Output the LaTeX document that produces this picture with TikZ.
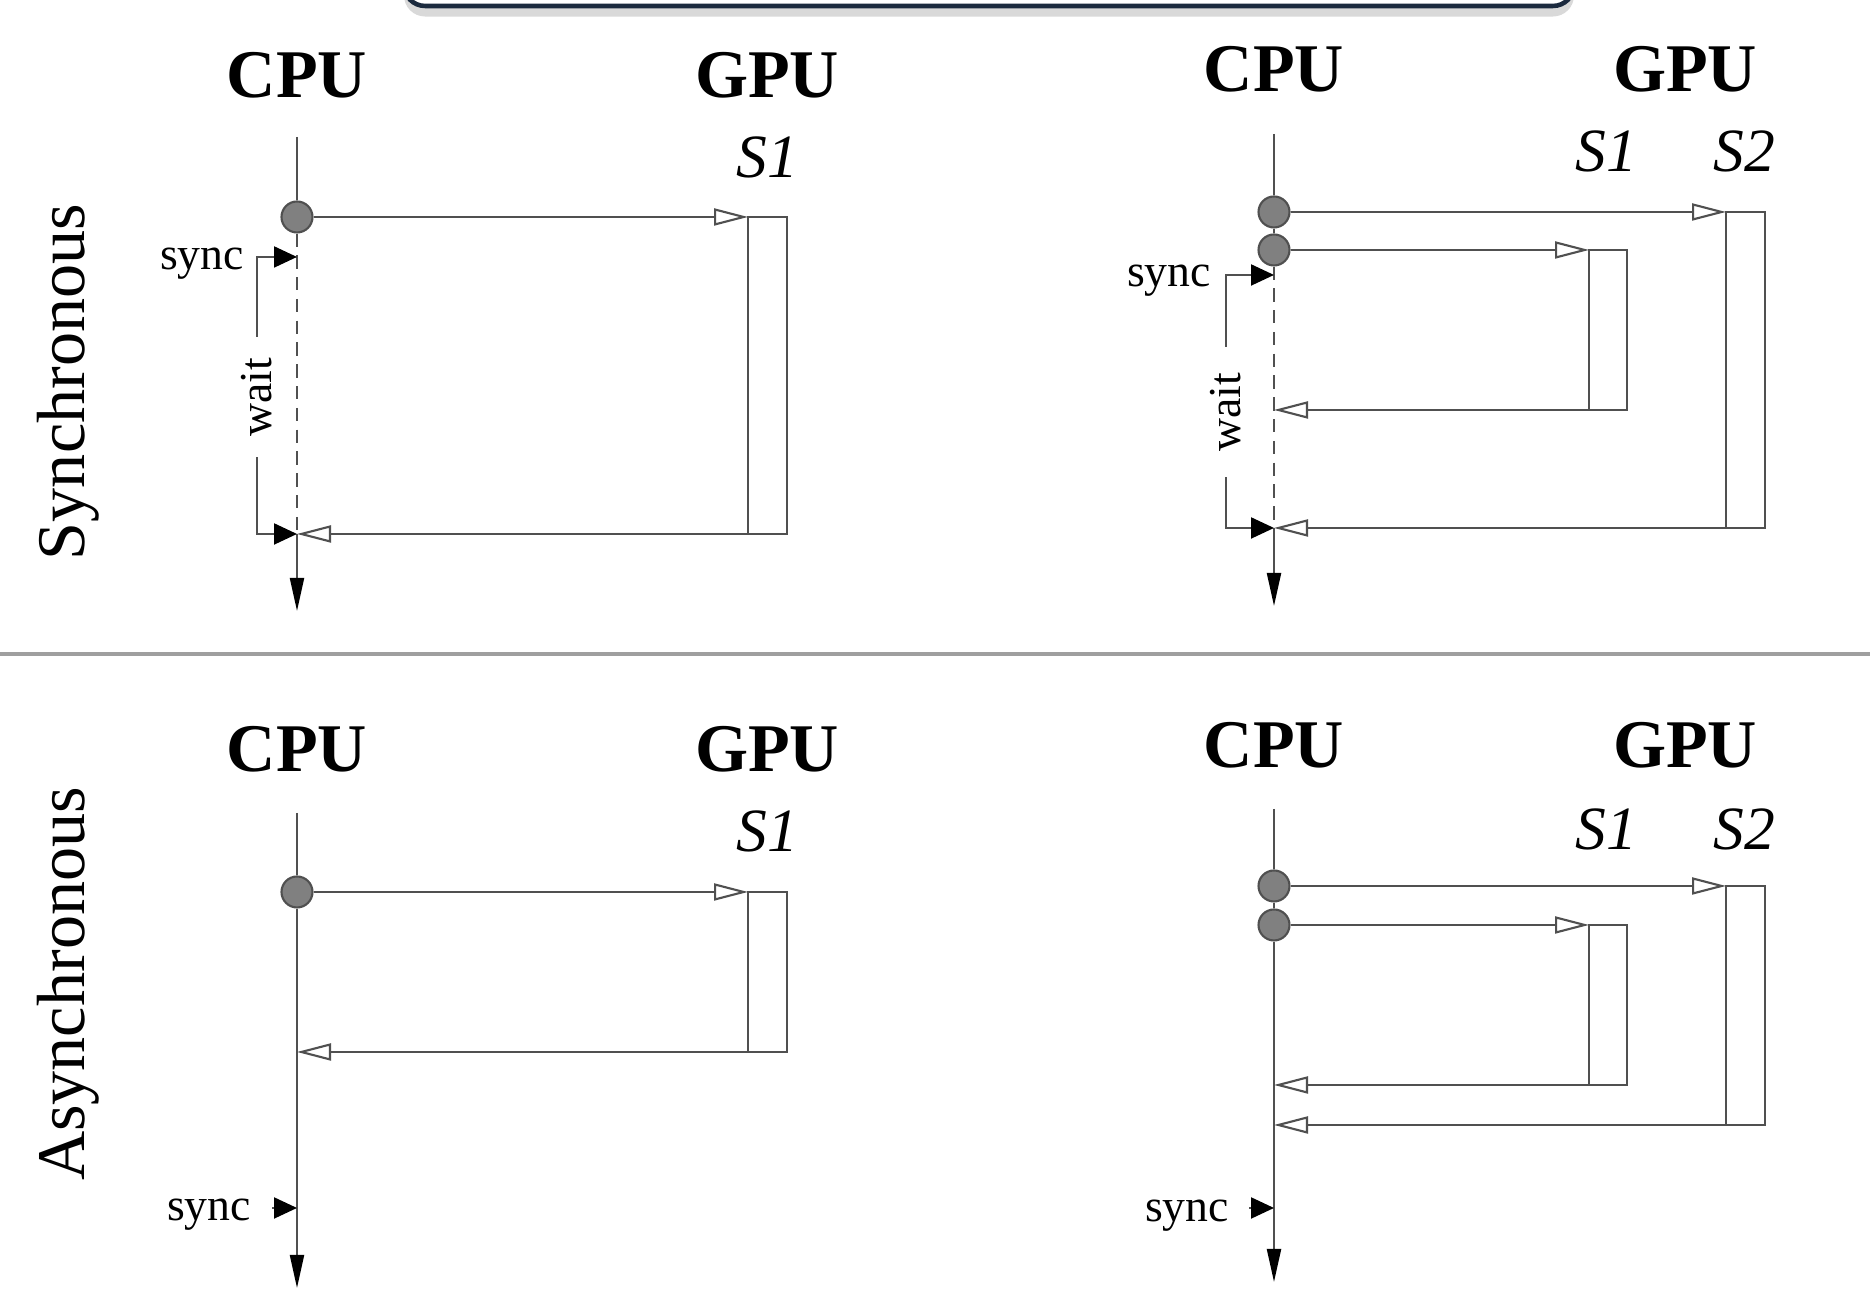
\documentclass[tikz,border=0pt]{standalone}
\usepackage{fontspec}
\setmainfont{Liberation Serif}
\usetikzlibrary{arrows.meta, positioning, shadows}
\definecolor{cline}{HTML}{505050}
\definecolor{cdot}{HTML}{808080}
\definecolor{cnavy}{HTML}{1B2A3E}
\tikzset{
  every picture/.style={line width=0.6pt},
  who/.style={font=\fontsize{19.4}{22}\selectfont\bfseries},
  strm/.style={font=\fontsize{17.5}{20}\selectfont\itshape},
  mode/.style={font=\fontsize{19.4}{22}\selectfont, rotate=90},
  small/.style={font=\fontsize{13}{15}\selectfont, inner sep=0pt},
  dot/.style={circle, draw=cline, fill=cdot, minimum size=3.1mm, inner sep=0pt},
  call/.style={draw=cline, -{Triangle[open, length=3.4mm, width=1.7mm]}},
  hard/.style={draw=cline, -{Triangle[length=2.3mm, width=2.1mm, color=black]}},
  down/.style={draw=cline, -{Triangle[length=3.3mm, width=1.4mm, color=black]}},
  banner/.style={draw=cnavy, fill=white, rounded corners=6pt, line width=1.3pt, drop shadow={opacity=0.3, shadow xshift=0pt, shadow yshift=-3pt}},
}
\begin{document}
\begin{tikzpicture}[wt/.style={small, rotate=90, inner xsep=#1}, wt/.default=2mm, gap/.style={draw=cline, dash pattern=on 3.8pt off 2.4pt}]
\useasboundingbox (0,0) rectangle (18.70,13.06);
\node[banner, minimum width=11.7cm, minimum height=0.7cm] (hdr) at (9.89,13.35) {};
\coordinate (dl) at (0,6.52); \coordinate (dr) at (18.70,6.52);
\draw[gray!75, line width=1pt] (dl) -- (dr);
\node[mode] (syn) at (0.68,9.24) {Synchronous};
\node[mode] (asy) at (0.68,3.22) {Asynchronous};
% Synchronous, one stream
\begin{scope}[shift={(2.97,10.89)}]
  \node[who] (cpu) at (0,1.42) {CPU};
  \node[who] (gpu) at (4.70,1.42) {GPU};
  \node[strm] (s1) at (4.70,0.60) {S1};
  \coordinate (top) at (0,0.80); \coordinate (bot) at (0,-3.94);
  \node[dot] (c1) at (0,0) {};
  \coordinate (k1) at (4.51,0); \coordinate (m1) at (4.51,-3.17); \coordinate (e1) at (4.90,-3.17);
  \coordinate (r1) at (0,-3.17); \coordinate (sy) at (0,-0.40);
  \draw[cline] (k1) rectangle (e1);
  \draw[cline] (top) -- (c1);
  \draw[gap] (c1) -- (r1);
  \draw[down] (r1) -- (bot);
  \draw[call] (c1) -- (k1);
  \draw[call] (m1) -- (r1);
  \node[small] (sl) at (-0.95,-0.47) {sync};
  \node[wt] (w) at (-0.40,-1.80) {wait};
  \draw[hard] (w.east) |- (sy);
  \draw[hard] (w.west) |- (r1);
\end{scope}
% Synchronous, two streams
\begin{scope}[shift={(12.74,10.94)}]
  \node[who] (cpu) at (0,1.43) {CPU};
  \node[who] (gpu) at (4.11,1.43) {GPU};
  \node[strm] (s1) at (3.32,0.61) {S1};
  \node[strm] (s2) at (4.70,0.61) {S2};
  \coordinate (top) at (0,0.78); \coordinate (bot) at (0,-3.94);
  \node[dot] (c1) at (0,0) {};
  \node[dot] (c2) at (0,-0.38) {};
  \coordinate (k2) at (4.52,0); \coordinate (m2) at (4.52,-3.16); \coordinate (e2) at (4.91,-3.16);
  \coordinate (k1) at (3.15,-0.38); \coordinate (m1) at (3.15,-1.98); \coordinate (e1) at (3.53,-1.98);
  \coordinate (r1) at (0,-1.98); \coordinate (r2) at (0,-3.16); \coordinate (sy) at (0,-0.63);
  \draw[cline] (k2) rectangle (e2);
  \draw[cline] (k1) rectangle (e1);
  \draw[cline] (top) -- (c1) -- (c2);
  \draw[gap] (c2) -- (r2);
  \draw[down] (r2) -- (bot);
  \draw[call] (c1) -- (k2);
  \draw[call] (c2) -- (k1);
  \draw[call] (m1) -- (r1);
  \draw[call] (m2) -- (r2);
  \node[small] (sl) at (-1.05,-0.69) {sync};
  \node[wt=2.5mm] (w) at (-0.48,-2.00) {wait};
  \draw[hard] (w.east) |- (sy);
  \draw[hard] (w.west) |- (r2);
\end{scope}
% Asynchronous, one stream
\begin{scope}[shift={(2.97,4.14)}]
  \node[who] (cpu) at (0,1.43) {CPU};
  \node[who] (gpu) at (4.70,1.43) {GPU};
  \node[strm] (s1) at (4.70,0.61) {S1};
  \coordinate (top) at (0,0.79); \coordinate (bot) at (0,-3.96);
  \node[dot] (c1) at (0,0) {};
  \coordinate (k1) at (4.51,0); \coordinate (m1) at (4.51,-1.60); \coordinate (e1) at (4.90,-1.60);
  \coordinate (r1) at (0,-1.60);
  \coordinate (sx) at (-0.25,-3.16); \coordinate (sy) at (0,-3.16);
  \draw[cline] (k1) rectangle (e1);
  \draw[cline] (top) -- (c1);
  \draw[down] (c1) -- (bot);
  \draw[call] (c1) -- (k1);
  \draw[call] (m1) -- (r1);
  \node[small] (sl) at (-0.88,-3.23) {sync};
  \draw[hard] (sx) -- (sy);
\end{scope}
% Asynchronous, two streams
\begin{scope}[shift={(12.74,4.20)}]
  \node[who] (cpu) at (0,1.41) {CPU};
  \node[who] (gpu) at (4.11,1.41) {GPU};
  \node[strm] (s1) at (3.32,0.57) {S1};
  \node[strm] (s2) at (4.70,0.57) {S2};
  \coordinate (top) at (0,0.77); \coordinate (bot) at (0,-3.96);
  \node[dot] (c1) at (0,0) {};
  \node[dot] (c2) at (0,-0.39) {};
  \coordinate (k2) at (4.52,0); \coordinate (m2) at (4.52,-2.39); \coordinate (e2) at (4.91,-2.39);
  \coordinate (k1) at (3.15,-0.39); \coordinate (m1) at (3.15,-1.99); \coordinate (e1) at (3.53,-1.99);
  \coordinate (r1) at (0,-1.99); \coordinate (r2) at (0,-2.39);
  \coordinate (sx) at (-0.25,-3.22); \coordinate (sy) at (0,-3.22);
  \draw[cline] (k2) rectangle (e2);
  \draw[cline] (k1) rectangle (e1);
  \draw[cline] (top) -- (c1) -- (c2);
  \draw[down] (c2) -- (bot);
  \draw[call] (c1) -- (k2);
  \draw[call] (c2) -- (k1);
  \draw[call] (m1) -- (r1);
  \draw[call] (m2) -- (r2);
  \node[small] (sl) at (-0.87,-3.30) {sync};
  \draw[hard] (sx) -- (sy);
\end{scope}
\end{tikzpicture}
\end{document}
